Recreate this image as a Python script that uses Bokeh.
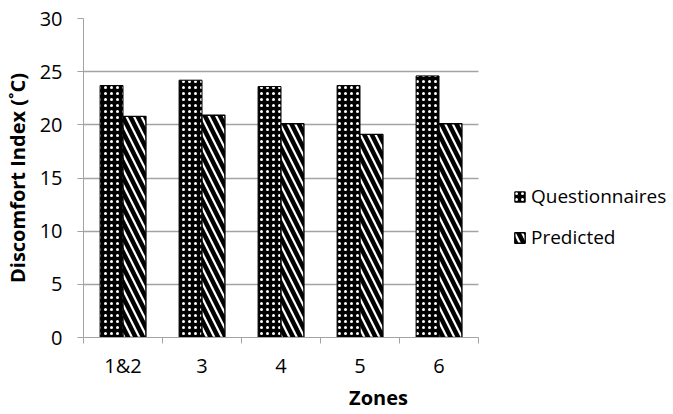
from bokeh.plotting import figure
from bokeh.models import Range1d, FixedTicker, Legend, LegendItem, ColumnDataSource
from bokeh.embed import file_html
from bokeh.resources import INLINE

zones = ["1&2", "3", "4", "5", "6"]
questionnaires = [23.7, 24.2, 23.6, 23.7, 24.6]
predicted = [20.8, 20.9, 20.1, 19.1, 20.1]
y_ticks = [0, 5, 10, 15, 20, 25, 30]

FONT = "Open Sans"
GRAY = "#a3a3a3"

n = len(zones)
centers = [i + 0.5 for i in range(n)]
bar_w = 0.29

# frame spans to the right edge so the legend sits inside it; the category
# part (0..n) occupies 395 px of the 590 px frame
x_end = n * 590 / 395

p = figure(width=673, height=414, output_backend="svg", toolbar_location=None,
           x_range=Range1d(0, x_end), y_range=Range1d(0, 30))
p.min_border_left = 83
p.min_border_right = 0
p.min_border_top = 18
p.min_border_bottom = 77
p.outline_line_color = None
p.background_fill_color = "white"
p.border_fill_color = "white"

src_q = ColumnDataSource(dict(x=[c - bar_w / 2 for c in centers], top=questionnaires))
src_p = ColumnDataSource(dict(x=[c + bar_w / 2 for c in centers], top=predicted))

rq = p.vbar(x="x", top="top", width=bar_w, source=src_q, fill_color="black",
            line_color="black", line_width=1, hatch_pattern="dot",
            hatch_color="white", hatch_scale=6, hatch_weight=0.6)
rp = p.vbar(x="x", top="top", width=bar_w, source=src_p, fill_color="white",
            line_color="black", line_width=1.4, hatch_pattern="left_diagonal_line",
            hatch_color="black", hatch_scale=15, hatch_weight=4.5)

# x axis: labels at centers, ticks at boundaries
p.xaxis.ticker = FixedTicker(ticks=centers, minor_ticks=list(range(n + 1)))
p.xaxis.major_label_overrides = {c: z for c, z in zip(centers, zones)}
p.xaxis.bounds = (0, n)
p.xaxis.major_tick_line_color = None
p.xaxis.minor_tick_line_color = GRAY
p.xaxis.minor_tick_in = 0
p.xaxis.minor_tick_out = 6
p.xaxis.axis_line_color = GRAY
p.xaxis.major_label_standoff = 8
p.xaxis.axis_label = "Zones"
p.xaxis.axis_label_standoff = 2

p.yaxis.ticker = FixedTicker(ticks=y_ticks, minor_ticks=[])
p.yaxis.major_tick_line_color = GRAY
p.yaxis.major_tick_in = 0
p.yaxis.major_tick_out = 6
p.yaxis.minor_tick_line_color = None
p.yaxis.axis_line_color = GRAY
p.yaxis.major_label_standoff = 15
p.yaxis.axis_label = "Discomfort Index (˚C)"
p.yaxis.axis_label_standoff = 6

for ax in (p.xaxis, p.yaxis):
    ax.major_label_text_font = FONT
    ax.major_label_text_font_size = "20px"
    ax.major_label_text_color = "black"
    ax.axis_label_text_font = FONT
    ax.axis_label_text_font_size = "20px"
    ax.axis_label_text_font_style = "bold"
    ax.axis_label_text_color = "black"

p.xgrid.grid_line_color = None
p.ygrid.ticker = FixedTicker(ticks=y_ticks)
p.ygrid.cross_bounds = (0, n)
p.ygrid.grid_line_color = GRAY
p.ygrid.grid_line_width = 1.3

legend = Legend(items=[LegendItem(label="Questionnaires", renderers=[rq]),
                       LegendItem(label="Predicted", renderers=[rp])],
                location=(430, 87), border_line_color=None,
                background_fill_alpha=0, glyph_width=13, glyph_height=13,
                spacing=15, padding=5, label_standoff=5,
                label_text_font=FONT, label_text_font_size="19px",
                label_text_color="black")
p.add_layout(legend, "center")

open("out.html", "w").write(file_html(p, INLINE))
